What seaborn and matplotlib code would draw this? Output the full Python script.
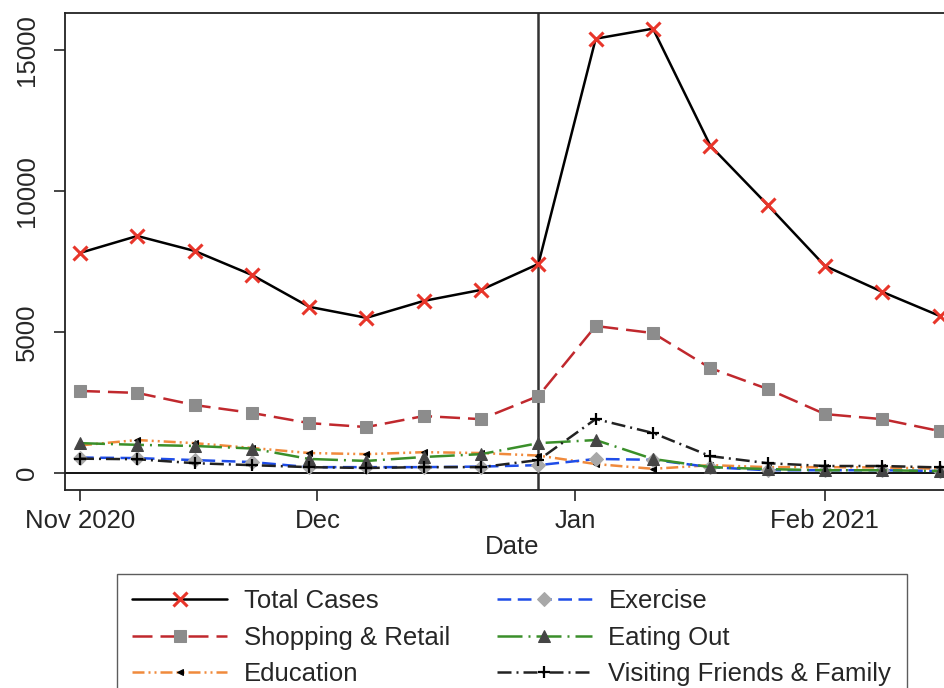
import numpy as np
import pandas as pd
import matplotlib
matplotlib.use("Agg")
import matplotlib.pyplot as plt
import seaborn as sns

# ---- data (weekly) ----
dates = pd.date_range("2020-11-01", periods=16, freq="7D")
total_cases = [7800, 8400, 7870, 7020, 5890, 5500, 6100, 6490, 7410, 15390, 15745, 11600, 9500, 7340, 6420, 5570]
shopping = [2910, 2840, 2410, 2130, 1770, 1630, 2020, 1910, 2730, 5210, 4960, 3720, 2980, 2090, 1910, 1490]
education = [980, 1170, 1060, 890, 710, 670, 740, 710, 620, 320, 150, 280, 210, 210, 200, 150]
exercise = [550, 530, 460, 390, 210, 210, 210, 230, 280, 500, 470, 210, 100, 100, 100, 70]
eating_out = [1060, 1000, 960, 870, 500, 430, 570, 670, 1060, 1170, 500, 210, 140, 100, 100, 70]
visiting = [510, 490, 350, 280, 210, 180, 210, 210, 460, 1915, 1420, 600, 350, 250, 250, 200]
labels = ["Total Cases", "Shopping & Retail", "Education", "Exercise", "Eating Out",
          "Visiting Friends & Family"]
event_date = pd.Timestamp("2020-12-27")
tick_dates = [pd.Timestamp("2020-11-01"), pd.Timestamp("2020-11-30"),
              pd.Timestamp("2020-12-31 12:00"), pd.Timestamp("2021-01-31")]
tick_labels = ["Nov 2020", "Dec", "Jan", "Feb 2021"]
y_ticks = [0, 5000, 10000, 15000]

sns.set_theme(style="ticks")
plt.rcParams["font.family"] = ["Liberation Sans", "DejaVu Sans"]
FS = 18.5
plt.rcParams["font.size"] = FS

fig = plt.figure(figsize=(9.44, 6.88), dpi=100)
ax = fig.add_axes([65 / 944, 1 - 490 / 688, (960 - 65) / 944, (490 - 13) / 688])

lw = 1.8
styles = [
    dict(y=total_cases, color="black", linestyle="-", marker="x", markersize=10,
         markeredgecolor="#e8352a", markerfacecolor="#e8352a", markeredgewidth=2.2),
    dict(y=shopping, color="#c0282d", linestyle=(0, (8, 3.2)), marker="s", markersize=8,
         markeredgecolor="#8c8c8c", markerfacecolor="#8c8c8c"),
    dict(y=education, color="#f08a3c", linestyle=(0, (4.8, 1.6, 0.8, 1.6, 0.8, 1.6)), marker="<",
         markersize=5, markeredgecolor="black", markerfacecolor="black"),
    dict(y=exercise, color="#1f4de8", linestyle=(0, (5.5, 2.6)), marker="D", markersize=7,
         markeredgecolor="#a8a8a8", markerfacecolor="#a8a8a8"),
    dict(y=eating_out, color="#3a8f2a", linestyle=(0, (10, 2.4, 0.8, 2.4)), marker="^", markersize=8,
         markeredgecolor="#454545", markerfacecolor="#454545"),
    dict(y=visiting, color="#222222", linestyle=(0, (5.6, 2.0, 0.8, 2.0)), marker="+", markersize=9,
         markeredgecolor="black", markeredgewidth=1.6),
]

ax.axhline(0, color="black", lw=1.3, zorder=1)
ax.axvline(event_date, color="#333333", lw=1.8, zorder=1)

for lab, st in zip(labels, styles):
    st = dict(st)
    yv = st.pop("y")
    sns.lineplot(x=dates, y=yv, ax=ax, label=lab, linewidth=lw, legend=False, **st)

ax.set_ylim(-600, 16300)
ax.set_xlim(pd.Timestamp("2020-11-01") - pd.Timedelta(days=1.83),
            pd.Timestamp("2020-11-01") + pd.Timedelta(days=107.5))
ax.set_yticks(y_ticks)
ax.set_yticklabels([str(v) for v in y_ticks], rotation=90, va="center")
ax.set_xticks(tick_dates)
ax.set_xticklabels(tick_labels)
ax.tick_params(axis="y", length=8, width=1.2, pad=11, labelsize=FS)
ax.tick_params(axis="x", length=8, width=1.2, pad=6, labelsize=FS)
ax.set_xlabel("Date", fontsize=FS, labelpad=1)
ax.set_ylabel("")
for s in ax.spines.values():
    s.set_visible(True)
    s.set_linewidth(1.3)
    s.set_color("#222222")

handles, labs = ax.get_legend_handles_labels()
leg = fig.legend(handles, labs, ncol=2, loc="upper left",
                 bbox_to_anchor=(117 / 944, 1 - 574 / 688),
                 frameon=True, fancybox=False, edgecolor="#333333",
                 fontsize=FS, handlelength=3.7, handletextpad=0.65, labelspacing=0.48,
                 borderaxespad=0.0, borderpad=0.6, columnspacing=1.8)
leg.get_frame().set_linewidth(1.0)

fig.savefig("out.png", dpi=100)
